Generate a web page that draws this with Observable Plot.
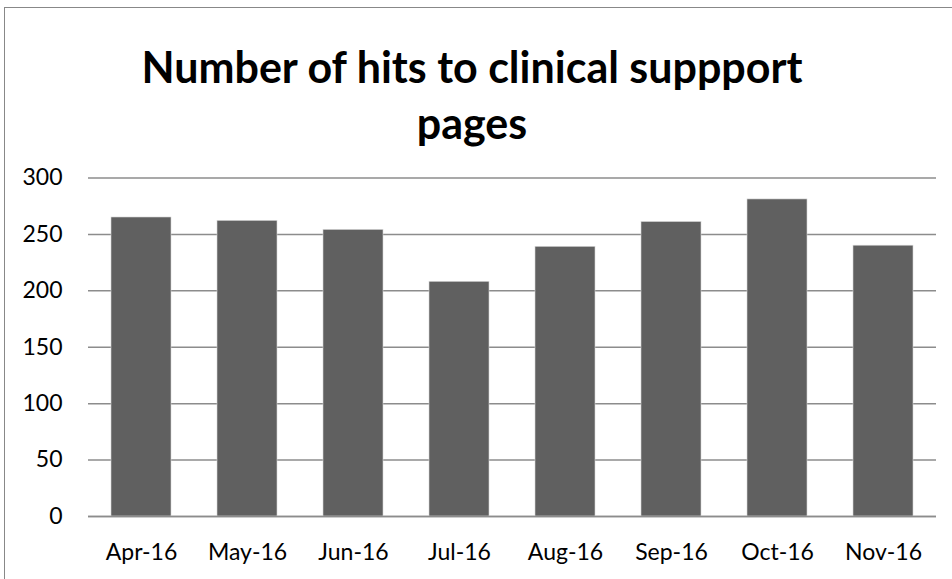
<!DOCTYPE html>
<html>
<head>
<meta charset="utf-8">
<script src="https://cdn.jsdelivr.net/npm/d3@7"></script>
<script src="https://cdn.jsdelivr.net/npm/@observablehq/plot@0.6"></script>
<style>
  html, body { margin: 0; padding: 0; background: #fff; }
  #wrap { position: relative; width: 952px; height: 579px; overflow: hidden; font-family: Lato, "Open Sans", sans-serif; }
  #frame { position: absolute; left: 4px; top: 7px; width: 1000px; height: 700px; border-left: 1.5px solid #888; border-top: 1.5px solid #888; }
  #title { position: absolute; left: 0; top: 39px; width: 944px; text-align: center; font-weight: bold; font-size: 43px; line-height: 56px; color: #000; }
  #chart { position: absolute; left: 0; top: 0; }
</style>
</head>
<body>
<div id="wrap">
  <div id="frame"></div>
  <div id="title">Number of hits to clinical suppport<br>pages</div>
  <div id="chart"></div>
</div>
<script>
const months = ["Apr-16", "May-16", "Jun-16", "Jul-16", "Aug-16", "Sep-16", "Oct-16", "Nov-16"];
const hits = [265, 262, 254, 208, 239, 261, 281, 240];
const yTicks = [0, 50, 100, 150, 200, 250, 300];

const data = months.map((m, i) => ({month: m, hits: hits[i]}));

const chart = Plot.plot({
  width: 952,
  height: 579,
  marginTop: 177.5,
  marginBottom: 63,
  marginLeft: 88,
  marginRight: 16,
  style: {fontFamily: "Lato, 'Open Sans', sans-serif", fontSize: "23px", color: "#000", background: "transparent"},
  x: {domain: months, paddingInner: 0.43, paddingOuter: 0.215, label: null},
  y: {domain: [0, 300], label: null},
  marks: [
    Plot.ruleY(yTicks, {stroke: "#8c8c8c", strokeWidth: 1.5}),
    Plot.barY(data, {x: "month", y: "hits", fill: "#606060", stroke: "#d8d8d8", strokeWidth: 0.6}),
    Plot.ruleY([0], {stroke: "#8c8c8c", strokeWidth: 1.5}),
    Plot.axisY({ticks: yTicks, tickSize: 0, tickPadding: 26, fontSize: 23, fill: "#000", label: null}),
    Plot.axisX({tickSize: 0, tickPadding: 27, fontSize: 23, fill: "#000", label: null})
  ]
});
document.getElementById("chart").appendChild(chart);
</script>
</body>
</html>
